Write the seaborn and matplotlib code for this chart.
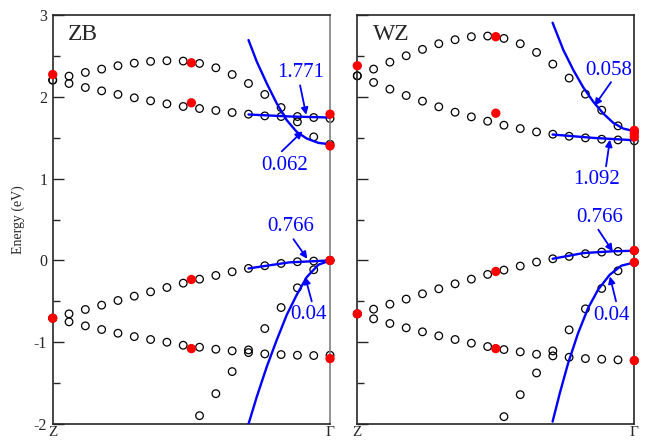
import pandas as pd
import seaborn as sns
import matplotlib
matplotlib.use('Agg')
import matplotlib.pyplot as plt
from matplotlib.ticker import MultipleLocator

# k-path Z -> Gamma, 18 sampled points; the steep band is only seen on the last 9
k_grid = [i / 17 for i in range(18)]
k_steep = k_grid[9:]

# ---- ZB (left panel) ----
zb_cb_upper = [2.204, 2.253, 2.298, 2.339, 2.380, 2.412, 2.433, 2.441, 2.437,
               2.408, 2.355, 2.273, 2.163, 2.029, 1.869, 1.694, 1.510, 1.420]
zb_cb_lower = [2.204, 2.163, 2.114, 2.073, 2.029, 1.988, 1.951, 1.914, 1.882,
               1.857, 1.833, 1.808, 1.788, 1.767, 1.759, 1.759, 1.747, 1.735]
zb_vb_upper = [-0.706, -0.653, -0.600, -0.547, -0.490, -0.437, -0.384, -0.331, -0.278,
               -0.229, -0.184, -0.139, -0.098, -0.065, -0.037, -0.016, -0.008, 0.000]
zb_vb_lower = [-0.706, -0.751, -0.800, -0.845, -0.890, -0.931, -0.967, -1.000, -1.037,
               -1.061, -1.086, -1.106, -1.127, -1.143, -1.151, -1.159, -1.163, -1.159]
zb_vb_steep = [-1.898, -1.629, -1.359, -1.094, -0.833, -0.576, -0.335, -0.114, 0.000]

zb_red_k = [0, 0, 0.5, 0.5, 0.5, 0.5, 1, 1, 1, 1]
zb_red_e = [2.273, -0.706, 2.416, 1.927, -0.233, -1.078, 1.788, 1.400, 0.000, -1.200]

# effective-mass fits (blue)
zb_fit_cb1_k = [0.706, 0.736, 0.772, 0.808, 0.844, 0.880, 0.916, 0.958, 1.0]
zb_fit_cb1_e = [2.694, 2.429, 2.163, 1.918, 1.714, 1.571, 1.490, 1.437, 1.420]
zb_fit_cb2_k = [0.706, 0.853, 1.0]
zb_fit_cb2_e = [1.784, 1.760, 1.747]
zb_fit_vb1_k = [0.706, 0.853, 1.0]
zb_fit_vb1_e = [-0.098, -0.024, 0.000]
zb_fit_vb2_k = [0.706, 0.736, 0.772, 0.808, 0.844, 0.880, 0.916, 0.958, 1.0]
zb_fit_vb2_e = [-2.000, -1.665, -1.298, -0.971, -0.665, -0.420, -0.204, -0.053, 0.000]
zb_masses = ['1.771', '0.062', '0.766', '0.04']

# ---- WZ (right panel) ----
wz_cb_upper = [2.257, 2.339, 2.424, 2.502, 2.580, 2.649, 2.698, 2.735, 2.743,
               2.714, 2.649, 2.543, 2.400, 2.229, 2.033, 1.837, 1.645, 1.580]
wz_cb_lower = [2.257, 2.176, 2.094, 2.016, 1.947, 1.878, 1.812, 1.755, 1.702,
               1.653, 1.612, 1.571, 1.543, 1.518, 1.498, 1.482, 1.473, 1.462]
wz_vb_upper = [-0.653, -0.596, -0.535, -0.473, -0.408, -0.347, -0.286, -0.229, -0.171,
               -0.118, -0.069, -0.020, 0.020, 0.049, 0.082, 0.102, 0.110, 0.118]
wz_vb_lower = [-0.653, -0.714, -0.771, -0.824, -0.873, -0.922, -0.967, -1.012, -1.053,
               -1.090, -1.118, -1.147, -1.167, -1.184, -1.200, -1.208, -1.216, -1.224]
wz_vb_steep = [-1.910, -1.641, -1.376, -1.106, -0.849, -0.592, -0.343, -0.127, -0.024]

wz_red_k = [0, 0, 0.5, 0.5, 0.5, 0.5, 1, 1, 1, 1, 1, 1]
wz_red_e = [2.380, -0.653, 2.735, 1.800, -0.135, -1.078, 1.590, 1.550, 1.510, 0.122, -0.024, -1.224]

wz_fit_cb1_k = [0.705, 0.744, 0.780, 0.816, 0.852, 0.888, 0.924, 0.960, 1.0]
wz_fit_cb1_e = [2.906, 2.571, 2.327, 2.114, 1.939, 1.796, 1.682, 1.612, 1.580]
wz_fit_cb2_k = [0.705, 0.852, 1.0]
wz_fit_cb2_e = [1.539, 1.498, 1.469]
wz_fit_vb1_k = [0.705, 0.816, 0.924, 1.0]
wz_fit_vb1_e = [0.020, 0.090, 0.112, 0.118]
wz_fit_vb2_k = [0.705, 0.731, 0.761, 0.797, 0.833, 0.869, 0.911, 0.953, 1.0]
wz_fit_vb2_e = [-1.971, -1.624, -1.257, -0.890, -0.584, -0.359, -0.176, -0.065, -0.024]
wz_masses = ['0.058', '1.092', '0.766', '0.04']

BLUE = '#0000ff'


def band_frame(bands, steep):
    parts = [pd.DataFrame({'k': k_grid, 'E': b}) for b in bands]
    parts.append(pd.DataFrame({'k': k_steep, 'E': steep}))
    return pd.concat(parts, ignore_index=True)


def draw_panel(ax, df, fits, red_k, red_e, masses, label_pos, name):
    sns.scatterplot(data=df, x='k', y='E', ax=ax, marker='o', s=30,
                    facecolors='none', edgecolor='black', linewidth=0.9,
                    clip_on=False, zorder=2, legend=False)
    for fk, fe in fits:
        sns.lineplot(x=fk, y=fe, ax=ax, color=BLUE, lw=1.7, sort=False,
                     estimator=None, zorder=3)
    sns.scatterplot(x=red_k, y=red_e, ax=ax, color='red', s=45, edgecolor='none',
                    clip_on=False, zorder=4, legend=False)
    for txt, (tpos, tail, head) in zip(masses, label_pos):
        ax.text(tpos[0], tpos[1], txt, color=BLUE, fontsize=15, ha='center', va='center')
        ax.annotate('', xy=head, xytext=tail,
                    arrowprops=dict(arrowstyle='-|>', color=BLUE, lw=1.3,
                                    mutation_scale=10, shrinkA=0, shrinkB=0))
    ax.text(0.055, 2.70, name, fontsize=17, ha='left', va='baseline')
    ax.set_xlim(0, 1)
    ax.set_ylim(-2, 3)
    ax.set_xticks([0, 1])
    ax.set_xticklabels(['Z', 'Γ'])
    ax.yaxis.set_major_locator(MultipleLocator(1))
    ax.yaxis.set_minor_locator(MultipleLocator(0.5))
    ax.tick_params(axis='y', which='major', direction='in', length=8, width=1, labelsize=11.5, pad=4)
    ax.tick_params(axis='y', which='minor', direction='in', length=5, width=1)
    ax.tick_params(axis='x', length=0, labelsize=11, pad=1.5)
    ax.set_xlabel('')
    ax.set_ylabel('')
    for sp in ax.spines.values():
        sp.set_linewidth(1.2)


sns.set_style('ticks')
plt.rcParams['font.family'] = ['Liberation Serif', 'DejaVu Serif']
plt.rcParams['axes.unicode_minus'] = False

fig = plt.figure(figsize=(6.46, 4.42), dpi=100)
ax_zb = fig.add_axes([0.0816, 0.0407, 0.4293, 0.9253])
ax_wz = fig.add_axes([0.5531, 0.0407, 0.4288, 0.9253])

zb_df = band_frame([zb_cb_upper, zb_cb_lower, zb_vb_upper, zb_vb_lower], zb_vb_steep)
zb_fits = [(zb_fit_cb1_k, zb_fit_cb1_e), (zb_fit_cb2_k, zb_fit_cb2_e),
           (zb_fit_vb1_k, zb_fit_vb1_e), (zb_fit_vb2_k, zb_fit_vb2_e)]
zb_pos = [((0.895, 2.30), (0.892, 2.14), (0.914, 1.78)),
          ((0.838, 1.155), (0.826, 1.334), (0.901, 1.579)),
          ((0.859, 0.41), (0.868, 0.26), (0.918, 0.02)),
          ((0.922, -0.665), (0.934, -0.50), (0.910, -0.20))]
draw_panel(ax_zb, zb_df, zb_fits, zb_red_k, zb_red_e, zb_masses, zb_pos, 'ZB')

wz_df = band_frame([wz_cb_upper, wz_cb_lower, wz_vb_upper, wz_vb_lower], wz_vb_steep)
wz_fits = [(wz_fit_cb1_k, wz_fit_cb1_e), (wz_fit_cb2_k, wz_fit_cb2_e),
           (wz_fit_vb1_k, wz_fit_vb1_e), (wz_fit_vb2_k, wz_fit_vb2_e)]
wz_pos = [((0.906, 2.324), (0.916, 2.18), (0.856, 1.89)),
          ((0.863, 0.988), (0.898, 1.15), (0.912, 1.477)),
          ((0.876, 0.52), (0.870, 0.376), (0.922, 0.11)),
          ((0.917, -0.675), (0.934, -0.50), (0.912, -0.196))]
draw_panel(ax_wz, wz_df, wz_fits, wz_red_k, wz_red_e, wz_masses, wz_pos, 'WZ')
ax_wz.tick_params(axis='y', labelleft=False)

ax_zb.spines['right'].set_color('0.5')
ax_zb.set_ylabel('Energy (eV)', fontsize=10, labelpad=6)

fig.savefig('out.png', dpi=100)
